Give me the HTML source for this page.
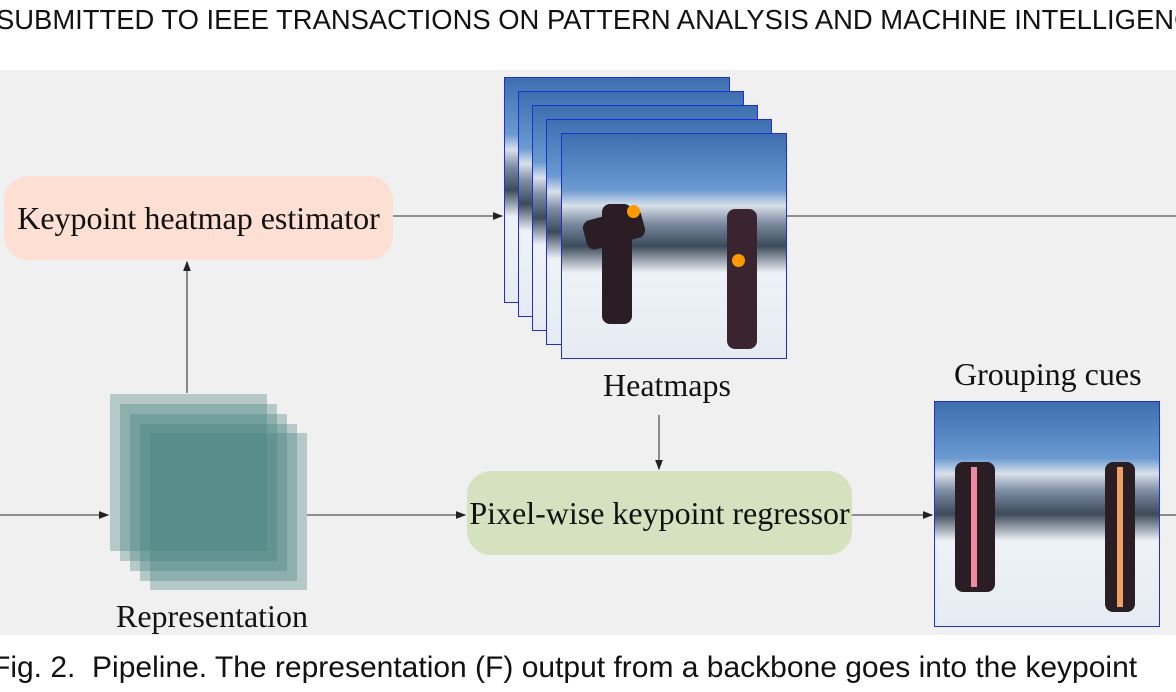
<!DOCTYPE html>
<html><head><style>
body{margin:0;width:1176px;height:692px;background:#fff;overflow:hidden;position:relative;font-family:"Liberation Serif",serif}
.abs{position:absolute}
.cap{font-family:"Liberation Sans",sans-serif;font-size:27.4px;color:#111;white-space:nowrap}
.img{position:absolute;width:224px;height:224px;border:1px solid #2030d0;background:linear-gradient(#3d6fb0 0%,#6a9ad0 25%,#d9e0ea 32%,#7a8aa0 40%,#3c4a5a 50%,#eef2f8 62%,#e6ebf3 100%)}
.lbl{font-size:32px;color:#111;white-space:nowrap}
.sq{position:absolute;width:157px;height:157px;background:rgba(70,130,125,0.35)}
</style></head><body>
<div class="abs cap" style="left:-4px;top:4px">SUBMITTED TO IEEE TRANSACTIONS ON PATTERN ANALYSIS AND MACHINE INTELLIGENCE</div>
<div class="abs" style="left:0;top:70px;width:1176px;height:565px;background:#f0f0f0"></div>
<div class="abs cap" style="left:-8px;top:651px;font-size:30px">Fig. 2.&nbsp; Pipeline. The representation (F) output from a backbone goes into the keypoint</div>
<svg class="abs" style="left:0;top:0" width="1176" height="692">
<defs><marker id="a" markerWidth="8" markerHeight="8" refX="7" refY="4" orient="auto"><path d="M0,1 L8,4 L0,7z" fill="#222"/></marker></defs>
<g stroke="#555" stroke-width="1.3" fill="none">
<line x1="393" y1="216" x2="502" y2="216" marker-end="url(#a)"/>
<line x1="787" y1="216" x2="1176" y2="216"/>
<line x1="187" y1="393" x2="187" y2="262" marker-end="url(#a)"/>
<line x1="0" y1="515" x2="108" y2="515" marker-end="url(#a)"/>
<line x1="307" y1="515" x2="465" y2="515" marker-end="url(#a)"/>
<line x1="659" y1="415" x2="659" y2="469" marker-end="url(#a)"/>
<line x1="852" y1="515" x2="932" y2="515" marker-end="url(#a)"/>
<line x1="1160" y1="515" x2="1176" y2="515"/>
</g></svg>
<div class="abs lbl" style="left:4px;top:176px;width:389px;height:84px;border-radius:24px;background:#fde0d3;line-height:84px;text-align:center">Keypoint heatmap estimator</div>
<div class="abs lbl" style="left:467px;top:471px;width:385px;height:84px;border-radius:24px;background:#d6e2bf;line-height:84px;text-align:center">Pixel-wise keypoint regressor</div>
<div class="sq" style="left:110px;top:394px"></div>
<div class="sq" style="left:120px;top:404px"></div>
<div class="sq" style="left:130px;top:414px"></div>
<div class="sq" style="left:140px;top:424px"></div>
<div class="sq" style="left:150px;top:433px"></div>
<div class="abs lbl" style="left:116px;top:598px">Representation</div>
<div class="img" style="left:504px;top:77px"></div>
<div class="img" style="left:518px;top:91px"></div>
<div class="img" style="left:532px;top:105px"></div>
<div class="img" style="left:546px;top:119px"></div>
<div class="img" style="left:561px;top:133px">
<div class="abs" style="left:22px;top:80px;width:60px;height:30px;background:#2a1e24;border-radius:8px;transform:rotate(-15deg)"></div>
<div class="abs" style="left:40px;top:70px;width:30px;height:120px;background:#2a1e24;border-radius:8px"></div>
<div class="abs" style="left:165px;top:75px;width:30px;height:140px;background:#3a2430;border-radius:8px"></div>
<div class="abs" style="left:65px;top:71px;width:13px;height:13px;border-radius:50%;background:#f90"></div>
<div class="abs" style="left:170px;top:120px;width:13px;height:13px;border-radius:50%;background:#f90"></div>
</div>
<div class="abs lbl" style="left:603px;top:367px">Heatmaps</div>
<div class="abs lbl" style="left:954px;top:356px">Grouping cues</div>
<div class="img" style="left:934px;top:401px">
<div class="abs" style="left:20px;top:60px;width:40px;height:130px;background:#2a1e24;border-radius:8px"></div>
<div class="abs" style="left:170px;top:60px;width:30px;height:150px;background:#2a1e24;border-radius:8px"></div>
<div class="abs" style="left:36px;top:65px;width:6px;height:120px;background:#f08aa0"></div>
<div class="abs" style="left:182px;top:65px;width:6px;height:140px;background:#f0a060"></div>
</div>
</body></html>
